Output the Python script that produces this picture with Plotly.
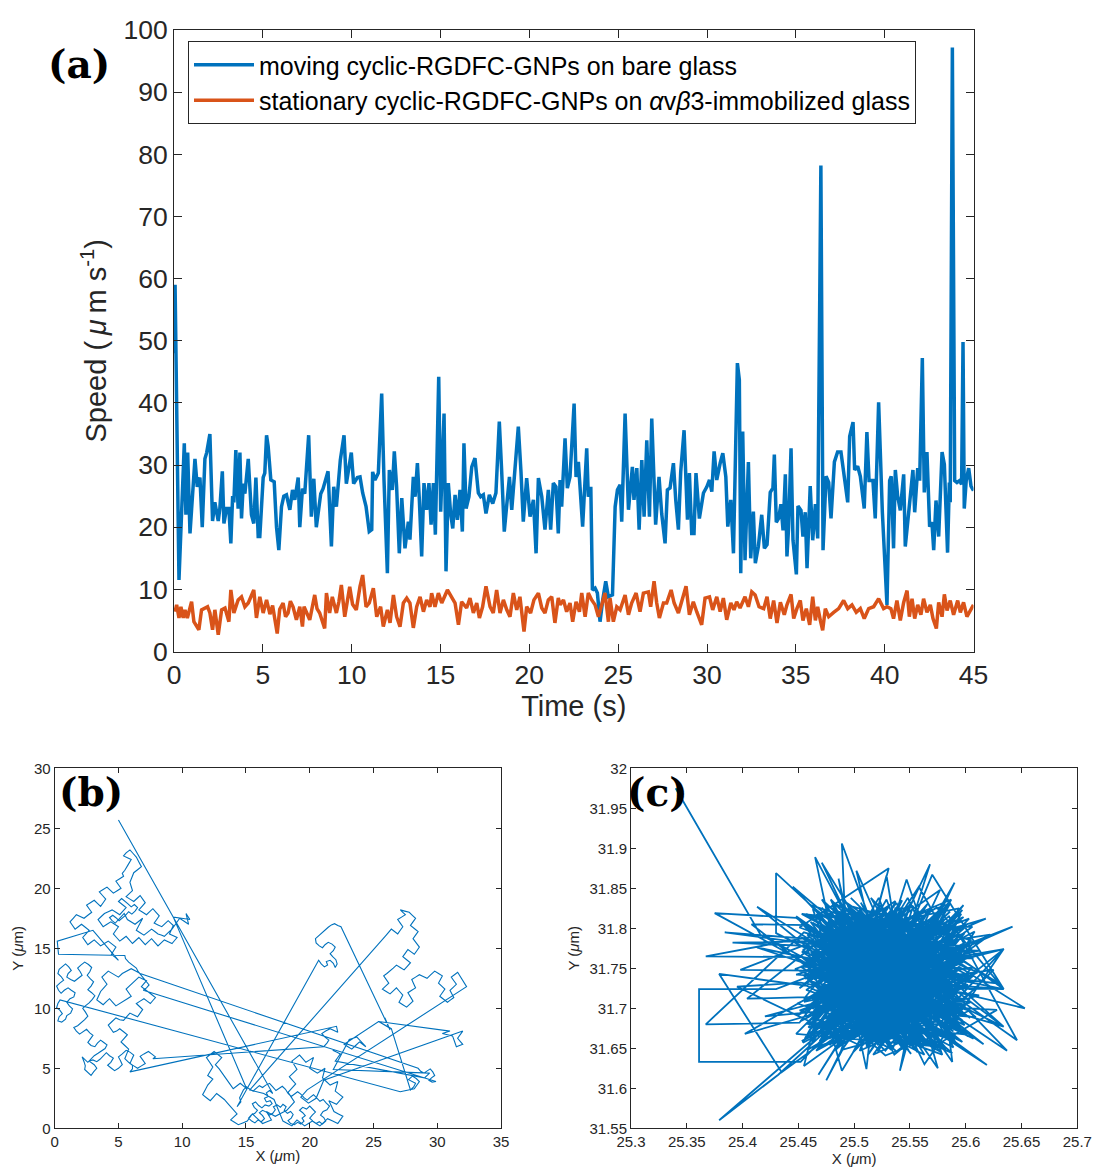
import plotly.graph_objects as go

# ---------------- (a) particle speed versus time ----------------
# moving cyclic-RGDFC-GNPs on bare glass: (time s, speed um/s)
moving_speed = [
    (0.00, 48.0), (0.06, 59.0), (0.28, 11.5), (0.58, 33.5), (0.67, 22.0), (0.77, 32.0), (0.90, 19.0),
    (1.18, 31.0), (1.31, 26.5), (1.46, 28.0), (1.59, 20.0), (1.74, 31.0), (1.84, 32.0), (2.02, 35.0),
    (2.17, 21.0), (2.30, 24.0), (2.49, 21.0), (2.58, 23.0), (2.72, 29.0), (2.81, 20.6), (2.96, 23.0),
    (3.09, 23.0), (3.20, 17.4), (3.30, 25.0), (3.37, 24.0), (3.48, 32.4), (3.61, 23.0), (3.71, 32.0),
    (3.80, 21.4), (3.90, 27.0), (3.99, 25.4), (4.18, 31.0), (4.36, 22.0), (4.49, 20.6), (4.61, 28.0),
    (4.74, 18.5), (4.83, 18.5), (5.02, 28.0), (5.11, 28.7), (5.21, 34.8), (5.30, 33.0), (5.45, 27.6),
    (5.64, 27.3), (5.77, 20.0), (5.90, 16.3), (6.05, 23.3), (6.18, 25.0), (6.33, 25.2), (6.52, 22.8),
    (6.67, 26.0), (6.80, 24.4), (6.99, 28.0), (7.08, 20.0), (7.23, 26.2), (7.36, 25.4), (7.58, 34.8),
    (7.73, 21.7), (7.87, 27.8), (8.01, 20.0), (8.26, 25.4), (8.39, 26.2), (8.67, 29.0), (8.86, 16.9),
    (8.99, 26.5), (9.14, 23.3), (9.36, 30.8), (9.57, 34.8), (9.70, 27.0), (9.98, 32.0), (10.11, 27.0),
    (10.32, 28.0), (10.47, 28.1), (10.62, 25.5), (10.81, 23.3), (10.99, 19.3), (11.13, 19.6), (11.18, 28.9),
    (11.31, 27.6), (11.50, 28.7), (11.69, 41.5), (11.82, 27.6), (12.01, 12.6), (12.12, 29.2), (12.29, 26.0),
    (12.40, 32.2), (12.53, 26.5), (12.68, 15.8), (12.82, 24.7), (13.00, 16.6), (13.19, 20.9), (13.28, 18.0),
    (13.47, 28.1), (13.57, 24.9), (13.70, 30.3), (13.81, 24.4), (13.94, 15.3), (14.07, 27.1), (14.22, 22.8),
    (14.35, 27.1), (14.47, 20.4), (14.60, 27.1), (14.71, 18.8), (14.90, 44.2), (15.01, 22.5), (15.20, 38.3),
    (15.31, 12.9), (15.44, 27.1), (15.57, 22.2), (15.69, 19.8), (15.82, 25.2), (15.95, 21.2), (16.10, 26.0),
    (16.23, 19.3), (16.32, 33.5), (16.44, 23.0), (16.60, 24.9), (16.76, 29.7), (16.94, 31.1), (17.13, 25.5),
    (17.26, 24.9), (17.41, 25.2), (17.56, 22.2), (17.75, 25.2), (17.94, 23.8), (18.12, 25.5), (18.31, 37.0),
    (18.44, 29.2), (18.59, 19.3), (18.73, 23.6), (18.88, 28.1), (19.01, 22.8), (19.19, 28.7), (19.38, 36.2),
    (19.53, 28.9), (19.66, 20.9), (19.85, 27.9), (20.04, 21.7), (20.23, 24.4), (20.38, 15.8), (20.51, 27.9),
    (20.70, 24.9), (20.88, 19.6), (21.07, 26.0), (21.20, 19.6), (21.35, 27.1), (21.50, 26.5), (21.63, 19.0),
    (21.73, 27.6), (21.82, 23.3), (22.01, 34.3), (22.14, 26.3), (22.29, 28.1), (22.52, 39.9), (22.63, 28.1),
    (22.76, 30.5), (23.00, 20.1), (23.23, 32.7), (23.32, 24.9), (23.46, 26.5), (23.55, 9.9), (23.70, 10.2),
    (23.83, 9.4), (23.98, 4.8), (24.13, 8.3), (24.30, 11.3), (24.45, 8.8), (24.68, 9.1), (24.83, 23.3),
    (24.96, 26.0), (25.11, 26.8), (25.20, 20.9), (25.39, 38.3), (25.58, 22.8), (25.80, 29.7), (25.89, 24.4),
    (26.05, 29.5), (26.18, 19.6), (26.33, 30.8), (26.46, 21.7), (26.61, 34.0), (26.76, 21.7), (26.89, 37.5),
    (27.11, 20.4), (27.30, 28.1), (27.45, 22.2), (27.64, 17.4), (27.77, 26.0), (27.92, 26.3), (28.11, 30.3),
    (28.24, 24.4), (28.39, 19.6), (28.52, 28.9), (28.71, 35.6), (28.90, 21.2), (29.01, 28.7), (29.14, 19.0),
    (29.27, 19.0), (29.38, 28.7), (29.57, 21.4), (29.80, 25.5), (29.99, 26.5), (30.14, 27.6), (30.27, 25.7),
    (30.40, 32.2), (30.55, 27.6), (30.74, 30.3), (30.89, 31.9), (31.06, 28.1), (31.17, 20.1), (31.34, 24.4),
    (31.49, 15.8), (31.71, 46.4), (31.82, 43.7), (31.90, 12.6), (32.01, 35.4), (32.14, 14.7), (32.33, 30.5),
    (32.46, 15.0), (32.61, 22.5), (32.72, 14.2), (32.89, 16.9), (33.08, 22.0), (33.23, 16.6), (33.38, 17.2),
    (33.56, 25.6), (33.71, 26.3), (33.79, 31.7), (33.90, 20.8), (34.03, 21.4), (34.16, 23.7), (34.28, 19.5),
    (34.41, 28.5), (34.50, 15.3), (34.59, 19.8), (34.73, 32.7), (34.84, 17.9), (35.03, 12.4), (35.12, 23.4),
    (35.29, 22.7), (35.40, 18.5), (35.53, 22.4), (35.63, 13.4), (35.81, 26.6), (35.95, 17.9), (36.10, 23.7),
    (36.23, 18.2), (36.41, 78.2), (36.53, 16.3), (36.70, 28.2), (36.85, 27.2), (36.98, 21.4), (37.17, 30.5),
    (37.35, 32.1), (37.54, 32.1), (37.69, 28.8), (37.92, 24.0), (38.03, 34.6), (38.22, 36.9), (38.31, 29.2),
    (38.48, 29.8), (38.63, 28.2), (38.85, 23.0), (39.00, 35.3), (39.12, 27.5), (39.34, 27.5), (39.47, 21.4),
    (39.66, 40.1), (39.87, 22.4), (40.13, 7.5), (40.28, 27.5), (40.37, 28.2), (40.50, 16.6), (40.60, 29.2),
    (40.73, 25.0), (40.88, 22.7), (41.07, 28.5), (41.16, 16.9), (41.29, 20.5), (41.48, 26.3), (41.59, 29.2),
    (41.69, 22.4), (41.86, 29.5), (41.97, 27.5), (42.12, 47.2), (42.23, 25.6), (42.38, 32.1), (42.53, 20.1),
    (42.66, 20.8), (42.76, 16.3), (42.89, 24.3), (43.04, 18.5), (43.23, 32.1), (43.36, 30.1), (43.54, 15.9),
    (43.64, 27.2), (43.69, 24.0), (43.81, 97.2), (43.94, 27.5), (44.07, 27.2), (44.22, 27.5), (44.33, 26.9),
    (44.41, 49.8), (44.48, 23.0), (44.59, 27.5), (44.73, 29.5), (44.86, 26.6), (45.00, 25.9),
]

# stationary cyclic-RGDFC-GNPs on avb3-immobilized glass: (time s, speed um/s)
stationary_speed = [
    (0.06, 6.4), (0.15, 7.5), (0.28, 5.4), (0.39, 7.2), (0.52, 5.4), (0.62, 6.7), (0.75, 5.4), (0.99, 8.0),
    (1.12, 4.8), (1.40, 3.5), (1.55, 6.7), (1.89, 7.2), (2.02, 6.2), (2.17, 3.5), (2.30, 6.7), (2.49, 2.7),
    (2.68, 6.7), (2.87, 7.0), (3.09, 4.8), (3.20, 9.9), (3.37, 6.2), (3.61, 8.3), (3.80, 8.8), (3.99, 7.2),
    (4.18, 7.8), (4.49, 9.9), (4.64, 5.4), (4.83, 8.8), (5.02, 6.2), (5.21, 8.3), (5.40, 6.0), (5.55, 7.4),
    (5.81, 2.9), (5.95, 6.8), (6.14, 7.8), (6.28, 5.6), (6.42, 6.2), (6.55, 8.1), (6.70, 7.2), (6.89, 5.1),
    (7.08, 7.2), (7.23, 4.0), (7.32, 7.2), (7.48, 6.1), (7.64, 5.1), (7.92, 9.1), (8.05, 6.9), (8.20, 6.2),
    (8.48, 3.7), (8.58, 9.4), (8.76, 6.2), (8.91, 8.8), (9.14, 6.2), (9.28, 8.0), (9.42, 10.7), (9.61, 5.6),
    (9.89, 10.4), (10.05, 7.6), (10.26, 6.7), (10.47, 10.5), (10.62, 12.3), (10.81, 7.2), (10.99, 7.8),
    (11.22, 10.2), (11.41, 5.6), (11.63, 7.2), (11.78, 4.0), (12.01, 6.7), (12.16, 4.6), (12.35, 9.1),
    (12.53, 5.6), (12.72, 4.0), (12.91, 7.8), (13.10, 8.6), (13.28, 7.8), (13.47, 3.8), (13.66, 7.2),
    (13.85, 8.8), (14.04, 6.4), (14.22, 8.3), (14.41, 7.2), (14.50, 9.4), (14.69, 7.2), (14.88, 9.4),
    (15.07, 7.8), (15.39, 9.9), (15.63, 8.6), (15.82, 7.8), (16.01, 4.3), (16.19, 8.0), (16.47, 7.0),
    (16.66, 8.6), (16.85, 6.2), (17.04, 7.8), (17.19, 5.4), (17.37, 7.2), (17.56, 10.5), (17.79, 7.2),
    (17.97, 6.2), (18.16, 9.9), (18.35, 6.2), (18.54, 8.3), (18.73, 6.7), (18.91, 5.6), (19.10, 9.4),
    (19.29, 6.7), (19.47, 8.8), (19.70, 3.2), (19.85, 7.2), (20.07, 6.2), (20.26, 8.3), (20.51, 9.4),
    (20.70, 7.0), (20.88, 6.2), (21.07, 8.3), (21.26, 8.8), (21.44, 4.6), (21.63, 8.6), (21.73, 7.5),
    (21.92, 8.3), (22.10, 6.4), (22.29, 7.8), (22.44, 4.8), (22.63, 8.0), (22.82, 6.4), (22.95, 9.4),
    (23.14, 5.6), (23.32, 9.4), (23.51, 8.3), (23.70, 7.5), (23.89, 5.6), (24.08, 7.8), (24.26, 9.4),
    (24.45, 4.8), (24.54, 8.6), (24.73, 4.8), (24.92, 7.2), (25.11, 6.7), (25.39, 9.1), (25.58, 5.9),
    (25.76, 7.8), (26.01, 9.4), (26.23, 6.4), (26.42, 9.4), (26.70, 9.6), (26.83, 7.2), (27.02, 11.3),
    (27.17, 7.8), (27.32, 5.4), (27.55, 7.8), (27.73, 7.8), (27.98, 9.9), (28.15, 7.8), (28.39, 6.2),
    (28.58, 8.3), (28.82, 10.5), (29.01, 5.9), (29.23, 8.0), (29.42, 6.4), (29.70, 4.3), (29.89, 8.6),
    (30.14, 8.8), (30.32, 6.7), (30.55, 8.8), (30.74, 6.4), (30.92, 8.6), (31.11, 5.1), (31.34, 7.8),
    (31.52, 6.7), (31.67, 8.0), (31.86, 7.0), (32.14, 8.8), (32.33, 7.2), (32.52, 9.6), (32.71, 9.1),
    (32.93, 7.2), (33.19, 6.9), (33.38, 8.8), (33.56, 5.3), (33.75, 8.2), (33.94, 4.6), (34.13, 7.9),
    (34.35, 5.9), (34.50, 7.5), (34.73, 9.2), (34.88, 5.3), (35.06, 6.9), (35.25, 8.2), (35.40, 5.0),
    (35.59, 6.9), (35.78, 4.3), (35.95, 8.8), (36.10, 5.0), (36.23, 7.2), (36.38, 5.0), (36.51, 3.4),
    (36.66, 6.9), (36.85, 5.6), (37.13, 6.3), (37.41, 6.9), (37.69, 8.2), (37.92, 6.9), (38.16, 7.5),
    (38.40, 6.3), (38.63, 6.9), (38.85, 5.3), (39.10, 6.9), (39.38, 7.2), (39.66, 8.5), (39.94, 6.9),
    (40.13, 7.2), (40.35, 6.9), (40.50, 5.3), (40.69, 8.2), (40.88, 5.0), (41.07, 7.9), (41.26, 9.8),
    (41.39, 5.6), (41.54, 8.5), (41.69, 5.3), (41.86, 7.5), (42.04, 5.9), (42.19, 8.5), (42.38, 6.3),
    (42.57, 7.5), (42.72, 5.3), (42.91, 3.7), (43.04, 7.9), (43.23, 5.6), (43.36, 9.2), (43.51, 6.6),
    (43.69, 8.2), (43.88, 5.9), (44.11, 8.2), (44.26, 6.3), (44.44, 7.9), (44.63, 5.6), (44.82, 6.6),
    (45.00, 7.5),
]

time_ticks = [0, 5, 10, 15, 20, 25, 30, 35, 40, 45]
speed_ticks = [0, 10, 20, 30, 40, 50, 60, 70, 80, 90, 100]

# ---------------- (b) trajectory of a moving particle (um) ----------------
moving_track = [
    (5.00, 25.70), (17.10, 2.90),
    # bottom cluster, first visit
    (16.85, 3.15), (16.6, 2.95), (16.75, 2.65), (16.45, 2.5), (16.6, 2.2), (16.9, 2.3), (17.05, 2.05), (16.8, 1.85),
    (16.5, 1.95), (16.25, 1.7), (16.0, 1.9), (15.75, 2.2), (15.5, 2.05), (15.65, 1.75), (15.9, 1.5), (15.7, 1.25),
    (15.4, 1.1), (15.2, 0.85), (15.45, 0.6), (15.7, 0.45), (15.95, 0.7), (16.2, 0.55), (16.45, 0.8), (16.3, 1.05),
    (16.05, 1.3), (16.3, 1.5), (16.6, 1.35), (16.85, 1.1), (17.1, 1.25), (17.3, 1.55), (17.15, 1.8), (17.45, 1.95),
    (17.7, 1.75), (17.9, 2.0), (18.15, 1.8), (18.0, 1.5), (18.25, 1.25), (18.5, 1.4), (18.7, 1.15), (18.55, 0.85),
    (18.3, 0.65), (18.5, 0.4), (18.8, 0.3), (19.05, 0.5), (19.3, 0.35), (19.55, 0.6), (19.4, 0.85), (19.65, 1.05),
    (19.45, 1.3), (19.2, 1.5), (19.45, 1.75), (19.75, 1.6), (20.0, 1.85), (20.25, 1.6), (20.45, 1.35), (20.2, 1.1),
    (20.0, 0.85), (20.25, 0.6), (20.5, 0.4), (20.75, 0.55), (21.0, 0.35), (21.25, 0.6), (21.1, 0.9), (20.85, 1.1),
    (21.05, 1.4), (21.35, 1.55), (21.55, 1.85), (21.3, 2.1), (21.05, 2.4), (20.8, 2.25), (20.55, 2.55), (20.3, 2.8),
    (20.05, 2.6), (19.8, 2.35), (19.55, 2.55), (19.3, 2.85), (19.05, 3.05), (18.8, 2.85), (18.55, 2.65), (18.3, 2.9),
    (18.1, 3.25), (17.85, 3.5), (17.6, 3.3), (17.35, 3.15), (17.1, 3.45), (16.85, 3.75), (16.55, 3.6), (16.3, 3.4),
    (16.05, 3.55), (15.8, 3.3), (15.55, 3.1), (15.3, 3.25), (15.05, 3.45), (14.8, 3.2), (14.65, 2.9), (14.5, 2.55),
    (14.6, 2.2), (14.4, 1.95), (14.3, 1.8),
    # middle cluster
    (20.7, 14.0), (20.9, 13.7), (21.15, 13.45), (21.4, 13.6), (21.3, 13.9), (21.6, 14.0), (21.85, 13.75), (22.0, 13.4),
    (22.15, 13.7), (22.05, 14.05), (21.8, 14.3), (21.6, 14.55), (21.85, 14.8), (22.0, 15.1), (21.75, 15.35),
    (21.45, 15.5), (21.2, 15.3), (21.0, 15.05), (20.75, 15.2), (20.5, 15.45), (20.45, 15.8), (20.7, 16.05),
    (20.95, 16.3), (21.2, 16.5), (21.45, 16.75), (21.7, 16.95), (21.95, 17.05), (22.2, 16.9), (22.45, 16.8),
    (26.3, 8.2), (25.9, 9.2), (26.2, 8.4), (25.4, 8.9), (26.4, 8.3),
    (27.9, 3.2), (28.15, 3.45), (28.3, 3.75), (28.0, 3.9), (27.75, 4.05), (28.05, 4.35), (28.35, 4.15), (28.6, 3.9),
    (28.4, 3.55), (28.2, 3.3), (27.1, 3.05),
    # left cluster
    (0.42, 10.7), (0.25, 10.4), (0.15, 10.05), (0.4, 9.85), (0.6, 9.55), (0.35, 9.3), (0.25, 8.95), (0.55, 8.85),
    (0.85, 9.1), (0.95, 9.4), (1.25, 9.6), (1.4, 9.95), (1.15, 10.2), (0.95, 10.5), (1.2, 10.8), (1.5, 10.95),
    (1.6, 11.3), (1.3, 11.5), (1.05, 11.7), (0.75, 11.5), (0.5, 11.25), (0.3, 11.5), (0.15, 11.85), (0.4, 12.1),
    (0.7, 12.35), (0.5, 12.65), (0.25, 12.9), (0.35, 13.25), (0.6, 13.5), (0.85, 13.7), (1.1, 13.45), (1.3, 13.15),
    (1.05, 12.9), (0.95, 12.6), (1.25, 12.4), (1.55, 12.25), (1.85, 12.5), (2.15, 12.75), (2.0, 13.05), (1.8, 13.35),
    (2.05, 13.6), (2.35, 13.85), (2.65, 13.65), (2.9, 13.4), (2.75, 13.05), (2.55, 12.75), (2.8, 12.45), (3.05, 12.2),
    (2.85, 11.85), (2.6, 11.55), (2.9, 11.3), (3.15, 11.05), (2.95, 10.75), (2.7, 10.45), (2.45, 10.25), (2.2, 10.0),
    (2.4, 9.7), (2.6, 9.35), (2.35, 9.05), (2.1, 8.8), (1.8, 8.55), (1.5, 8.4), (1.7, 8.1), (1.95, 7.85),
    (2.25, 8.05), (2.5, 8.25), (2.75, 7.95), (3.0, 7.75), (2.8, 7.45), (2.6, 7.15), (2.85, 6.9), (3.15, 6.8),
    (3.35, 7.1), (3.6, 7.35), (3.85, 7.15), (4.1, 6.95), (3.95, 6.65), (3.7, 6.45), (3.4, 6.25), (3.1, 6.05),
    (2.85, 5.8), (2.6, 5.5), (2.35, 5.75), (2.15, 5.95), (2.3, 5.55), (2.4, 5.2), (2.35, 4.9), (2.6, 4.65),
    (2.85, 4.4), (3.05, 4.7), (3.3, 5.0), (3.1, 5.3), (2.85, 5.45), (2.7, 5.6),
    (3.0, 5.7), (3.3, 5.55), (3.55, 5.75), (3.8, 6.05), (4.05, 6.3), (4.3, 6.05), (4.6, 5.85), (4.4, 5.5),
    (4.15, 5.25), (4.45, 5.0), (4.7, 4.8), (5.0, 5.0), (5.3, 5.3), (5.15, 5.65), (5.0, 5.95), (5.3, 6.2),
    (5.6, 6.5), (5.9, 6.35), (6.2, 6.1), (6.05, 5.75), (5.9, 5.4), (6.2, 5.2), (6.5, 5.0), (6.8, 5.2),
    (7.1, 5.4), (6.9, 5.7), (6.7, 6.0), (7.0, 6.2), (7.35, 6.4), (7.6, 6.2), (7.9, 5.95), (7.7, 5.8),
    (21.1, 6.8), (21.35, 7.1), (21.5, 7.35), (21.2, 7.6), (20.95, 7.9), (21.25, 8.1), (21.6, 8.3), (21.9, 8.15),
    (22.2, 8.0), (22.1, 8.5),
    (5.9, 4.7), (6.1, 4.95), (6.1, 5.25), (5.8, 5.5), (5.5, 5.8), (5.65, 6.2), (5.8, 6.6), (5.5, 6.9),
    (5.2, 7.2), (5.45, 7.5), (5.7, 7.8), (5.4, 8.05), (5.1, 8.3), (4.85, 8.1), (4.6, 8.0), (4.4, 8.3),
    (4.2, 8.6), (4.5, 8.9), (4.8, 9.2), (5.1, 9.05), (5.4, 9.0), (5.65, 9.3), (5.9, 9.6), (6.2, 9.45),
    (6.5, 9.3), (6.7, 9.6), (6.9, 9.9), (6.65, 10.15), (6.4, 10.4), (6.7, 10.6), (7.0, 10.8), (7.25, 10.6),
    (7.5, 10.4), (7.7, 10.65), (7.9, 10.9), (7.6, 11.15), (7.3, 11.4), (7.05, 11.6), (6.8, 11.8), (7.0, 12.05),
    (7.2, 12.3), (6.9, 12.45), (6.6, 12.6), (6.35, 12.35), (6.1, 12.1), (5.85, 11.85), (5.6, 11.6), (5.8, 11.3),
    (6.0, 11.0), (5.7, 10.8), (5.4, 10.6), (5.1, 10.4), (4.8, 10.2), (4.55, 10.5), (4.3, 10.8), (4.05, 10.55),
    (3.8, 10.3), (3.55, 10.5), (3.3, 10.7), (3.45, 11.05), (3.6, 11.4), (3.85, 11.7), (4.1, 12.0), (3.9, 12.3),
    (3.7, 12.6), (3.95, 12.85), (4.2, 13.1), (4.6, 12.85), (5.0, 12.6), (5.3, 12.9), (5.65, 13.1), (6.0, 13.3),
    (6.35, 13.1), (6.7, 12.9),
    (28.5, 5.0), (28.7, 4.75), (28.95, 4.6), (29.2, 4.8), (29.45, 4.95), (29.65, 4.7), (29.8, 4.4), (29.55, 4.2),
    (29.35, 4.0), (29.6, 3.85), (29.9, 3.9),
    # upper-left cluster
    (6.95, 11.5), (7.2, 11.7), (7.4, 11.95), (7.2, 12.2), (7.0, 12.45), (6.75, 12.75), (6.55, 13.05), (6.4, 13.35),
    (6.1, 13.6), (5.8, 13.85), (5.55, 14.15), (5.5, 14.4), (0.3, 14.5), (0.2, 15.6), (3.0, 16.5), (5.0, 14.0),
    (4.75, 14.25), (4.45, 14.5), (4.6, 14.8), (4.8, 15.1), (4.5, 15.35), (4.2, 15.6), (3.9, 15.4), (3.6, 15.2),
    (3.35, 15.45), (3.1, 15.7), (2.85, 15.5), (2.6, 15.3), (2.4, 15.6), (2.2, 15.9), (2.45, 16.2), (2.7, 16.5),
    (2.4, 16.75), (2.1, 17.0), (1.85, 16.8), (1.6, 16.6), (1.4, 16.9), (1.2, 17.2), (1.45, 17.5), (1.7, 17.8),
    (2.0, 17.65), (2.3, 17.5), (2.6, 17.75), (2.9, 18.0), (2.7, 18.3), (2.5, 18.6), (2.8, 18.8), (3.1, 19.0),
    (3.35, 18.75), (3.6, 18.5), (3.8, 18.8), (4.0, 19.1), (3.75, 19.4), (3.5, 19.7), (3.8, 19.9), (4.1, 20.1),
    (4.35, 19.85), (4.6, 19.6), (4.9, 19.8), (5.2, 20.0), (5.0, 20.3), (4.8, 20.6), (5.1, 20.8), (5.4, 21.0),
    (5.3, 21.25), (5.5, 21.5), (5.75, 21.95), (6.0, 22.4), (5.7, 22.55), (5.4, 22.7), (5.6, 22.95), (5.9, 23.2),
    (6.15, 22.9), (6.4, 22.6), (6.6, 22.2), (6.8, 21.8), (6.5, 21.55), (6.2, 21.3), (6.05, 20.9), (5.9, 20.5),
    (6.0, 20.15), (6.1, 19.8), (5.85, 19.55), (5.6, 19.3), (5.9, 19.1), (6.2, 18.9), (6.45, 19.15), (6.7, 19.4),
    (6.9, 19.1), (7.1, 18.8), (6.85, 18.5), (6.6, 18.2), (6.9, 18.0), (7.2, 17.8), (7.45, 18.05), (7.7, 18.3),
    (7.95, 18.0), (8.2, 17.7), (8.0, 17.4), (7.8, 17.1), (8.1, 16.95), (8.4, 16.8), (8.65, 17.05), (8.9, 17.3),
    (9.1, 17.1), (9.3, 16.9), (9.15, 16.55), (9.0, 16.2), (9.3, 16.05), (9.6, 15.9), (9.4, 15.65), (9.2, 15.4),
    (8.9, 15.55), (8.6, 15.7), (8.35, 15.45), (8.1, 15.2), (7.85, 15.5), (7.6, 15.8), (7.35, 15.55), (7.1, 15.3),
    (6.85, 15.6), (6.6, 15.9), (6.35, 15.65), (6.1, 15.4), (5.85, 15.7), (5.6, 16.0), (5.35, 15.8), (5.1, 15.6),
    (4.85, 15.9), (4.6, 16.2), (4.8, 16.5), (5.0, 16.8), (4.7, 17.0), (4.4, 17.2), (4.1, 17.0), (3.8, 16.8),
    (3.6, 17.1), (3.4, 17.4), (3.65, 17.65), (3.9, 17.9), (4.2, 18.05), (4.5, 18.2), (4.8, 18.0), (5.1, 17.8),
    (5.35, 18.1), (5.6, 18.4), (5.3, 18.65), (5.0, 18.9), (5.25, 19.15), (5.5, 18.95), (5.75, 18.7), (6.0, 18.45),
    (6.25, 18.65), (6.5, 18.4), (6.3, 18.1), (6.05, 17.85), (5.8, 18.05), (5.55, 17.75), (5.3, 17.5), (5.05, 17.3),
    (4.8, 17.55), (4.55, 17.75), (4.3, 17.55), (4.5, 17.3), (4.75, 17.1), (5.2, 17.6), (5.45, 17.9), (5.7, 17.4),
    (6.0, 17.2), (6.3, 17.0), (6.6, 17.25), (6.9, 17.5), (6.65, 17.0), (6.4, 16.5), (6.7, 16.3), (7.0, 16.1),
    (7.3, 16.35), (7.6, 16.6), (7.85, 16.4), (8.1, 16.2), (8.35, 16.1), (8.6, 16.0), (8.9, 16.3), (9.2, 16.6),
    (9.5, 17.05), (9.8, 17.5), (10.15, 17.25), (10.5, 17.0), (10.4, 17.45), (10.3, 17.9), (10.45, 17.65),
    (10.6, 17.4), (9.95, 17.5), (9.3, 17.6),
    # bottom cluster, second visit
    (15.05, 3.3), (14.8, 3.55), (14.55, 3.75), (14.3, 3.55), (14.0, 3.3), (13.8, 3.6), (13.6, 3.9), (13.4, 4.25),
    (13.2, 4.6), (12.9, 4.95), (12.6, 5.3), (12.85, 5.6), (13.1, 5.9), (12.8, 6.15), (12.5, 6.4), (12.2, 6.15),
    (11.9, 5.9), (12.15, 5.5), (12.4, 5.1), (12.2, 4.75), (12.0, 4.4), (12.2, 4.25), (12.4, 4.1), (12.2, 3.85),
    (12.0, 3.6), (11.8, 3.2), (11.6, 2.8), (11.9, 2.55), (12.2, 2.3), (12.45, 2.6), (12.7, 2.9), (13.0, 2.65),
    (13.3, 2.4), (13.55, 2.1), (13.8, 1.8), (14.05, 1.5), (14.3, 1.2), (14.05, 0.95), (13.8, 0.7), (14.1, 0.5),
    (14.4, 0.3), (14.75, 0.45), (15.1, 0.6), (15.3, 0.9), (15.5, 1.2), (15.9, 0.8), (16.3, 0.4), (16.65, 0.55),
    (17.0, 0.7), (16.8, 1.05), (16.6, 1.4), (16.95, 1.2), (17.3, 1.0), (17.75, 1.25), (18.2, 1.5), (18.5, 1.85),
    (18.8, 2.2), (18.55, 2.6), (18.3, 3.0), (18.6, 3.35), (18.9, 3.7), (18.65, 4.0), (18.4, 4.3), (18.7, 4.6),
    (19.0, 4.9), (18.8, 5.25), (18.6, 5.6), (18.9, 5.85), (19.2, 6.1), (19.45, 5.8), (19.7, 5.5), (20.0, 5.7),
    (20.3, 5.9), (20.15, 5.45), (20.0, 5.0), (20.3, 4.8), (20.6, 4.6), (20.9, 4.8), (21.2, 5.0), (21.1, 4.6),
    (21.0, 4.2), (21.3, 3.9), (21.6, 3.6), (21.9, 3.75), (22.2, 3.9), (22.1, 3.5), (22.0, 3.1), (22.3, 2.85),
    (22.6, 2.6), (22.35, 2.3), (22.1, 2.0), (21.8, 2.15), (21.5, 2.3), (21.7, 1.85), (21.9, 1.4), (22.25, 1.2),
    (22.6, 1.0), (22.4, 0.7), (22.2, 0.4), (21.8, 0.6), (21.4, 0.8), (21.1, 0.5), (20.8, 0.2), (20.5, 0.4),
    (20.2, 0.6), (19.9, 0.4), (19.6, 0.2), (19.3, 0.45), (19.0, 0.7), (18.8, 0.45), (18.6, 0.2), (18.25, 0.4),
    (17.9, 0.6), (17.55, 1.5), (17.2, 2.4), (16.8, 2.65), (16.4, 2.9), (15.85, 3.05), (15.3, 3.2),
    # right cluster
    (26.0, 16.1), (26.2, 16.35), (26.4, 16.6), (26.65, 16.4), (26.9, 16.2), (27.1, 16.5), (27.3, 16.8), (27.1, 17.1),
    (26.9, 17.4), (27.2, 17.6), (27.5, 17.8), (27.3, 18.0), (27.1, 18.2), (27.45, 18.1), (27.8, 18.0), (28.05, 17.75),
    (28.3, 17.5), (28.1, 17.2), (27.9, 16.9), (28.2, 16.65), (28.5, 16.4), (28.3, 16.1), (28.1, 15.8), (28.35, 15.45),
    (28.6, 15.1), (28.4, 14.8), (28.2, 14.5), (27.95, 14.7), (27.7, 14.9), (27.5, 14.6), (27.3, 14.3), (27.6, 14.05),
    (27.9, 13.8), (27.65, 13.5), (27.4, 13.2), (27.1, 13.4), (26.8, 13.6), (26.55, 13.35), (26.3, 13.1), (26.05, 12.9),
    (25.8, 12.7), (26.0, 12.4), (26.2, 12.1), (25.95, 11.85), (25.7, 11.6), (26.0, 11.4), (26.3, 11.2), (26.55, 11.45),
    (26.8, 11.7), (27.05, 11.4), (27.3, 11.1), (27.15, 10.8), (27.0, 10.5), (27.3, 10.3), (27.6, 10.1), (27.85, 10.35),
    (28.1, 10.6), (27.9, 10.95), (27.7, 11.3), (28.0, 11.5), (28.3, 11.7), (28.15, 12.05), (28.0, 12.4), (28.3, 12.6),
    (28.6, 12.8), (28.9, 12.65), (29.2, 12.5), (29.5, 12.8), (29.8, 13.1), (30.1, 12.9), (30.4, 12.7), (30.25, 12.4),
    (30.1, 12.1), (30.35, 11.85), (30.6, 11.6), (30.4, 11.3), (30.2, 11.0), (30.5, 10.75), (30.8, 10.5), (31.05, 10.7),
    (31.3, 10.9), (31.15, 11.2), (31.0, 11.5), (31.25, 11.75), (31.5, 12.0), (31.3, 12.3), (31.1, 12.6), (31.35, 12.8),
    (31.6, 13.0), (32.3, 11.8),
    (19.8, 3.2), (19.3, 2.6), (19.9, 2.1), (20.5, 2.5), (21.1, 4.0),
    (32.0, 8.1), (31.8, 7.8), (31.6, 7.5), (31.8, 7.25), (32.0, 7.0), (31.75, 6.9), (31.5, 6.8), (31.35, 7.25),
    (31.2, 7.7), (30.8, 7.8), (30.4, 7.9), (30.7, 8.0), (31.0, 8.1), (25.4, 8.9),
    (22.7, 7.0), (23.0, 6.8), (23.3, 6.6), (23.6, 6.9), (23.9, 7.2), (24.15, 7.0), (24.4, 6.8), (24.05, 7.2),
    (23.7, 7.6), (23.4, 7.5), (23.1, 7.4), (21.85, 4.9), (29.4, 4.6), (29.0, 4.2), (22.0, 5.6), (22.2, 5.9),
    (22.4, 6.2), (22.1, 6.35), (21.8, 6.5),
]
track_b_xticks = [0, 5, 10, 15, 20, 25, 30, 35]
track_b_yticks = [0, 5, 10, 15, 20, 25, 30]

# ---------------- (c) trajectory of a stationary particle (um) ----------------
stationary_track = [
    (25.340, 31.975), (25.416, 31.792), (25.498, 31.731), (25.561, 31.806), (25.472, 31.664), (25.594, 31.748), (25.485, 31.812), (25.547, 31.671), (25.458, 31.735), (25.583, 31.690),
    (25.505, 31.824), (25.533, 31.648), (25.476, 31.773), (25.604, 31.779), (25.451, 31.697), (25.556, 31.731), (25.495, 31.659), (25.578, 31.803), (25.466, 31.817), (25.521, 31.683),
    (25.612, 31.716), (25.489, 31.744), (25.539, 31.797), (25.448, 31.668), (25.568, 31.653), (25.507, 31.766), (25.591, 31.662), (25.478, 31.699), (25.549, 31.827), (25.462, 31.786),
    (25.528, 31.709), (25.597, 31.823), (25.483, 31.647), (25.542, 31.752), (25.455, 31.803), (25.574, 31.698), (25.515, 31.838), (25.588, 31.727), (25.469, 31.741), (25.533, 31.676),
    (25.448, 31.815), (25.602, 31.665), (25.497, 31.789), (25.563, 31.642), (25.471, 31.708), (25.585, 31.781), (25.511, 31.654), (25.541, 31.819), (25.457, 31.754), (25.579, 31.713),
    (25.634, 31.774), (25.492, 31.727), (25.557, 31.688), (25.474, 31.829), (25.603, 31.741), (25.519, 31.671), (25.462, 31.762), (25.587, 31.836), (25.536, 31.701), (25.481, 31.657),
    (25.569, 31.768), (25.452, 31.684), (25.526, 31.811), (25.598, 31.694), (25.487, 31.758), (25.551, 31.643), (25.466, 31.796), (25.581, 31.735), (25.503, 31.692), (25.544, 31.785),
    (25.430, 31.724), (25.361, 31.724), (25.361, 31.633), (25.452, 31.633), (25.531, 31.748), (25.592, 31.673), (25.478, 31.807), (25.565, 31.719), (25.459, 31.676), (25.517, 31.795),
    (25.606, 31.802), (25.486, 31.681), (25.548, 31.763), (25.473, 31.736), (25.589, 31.651), (25.524, 31.829), (25.455, 31.712), (25.577, 31.757), (25.499, 31.645), (25.559, 31.798),
    (25.634, 31.724), (25.468, 31.771), (25.539, 31.664), (25.594, 31.812), (25.482, 31.719), (25.529, 31.792), (25.447, 31.749), (25.571, 31.681), (25.508, 31.814), (25.586, 31.706),
    (25.464, 31.651), (25.555, 31.742), (25.491, 31.834), (25.601, 31.727), (25.477, 31.689), (25.543, 31.822), (25.516, 31.662), (25.583, 31.765), (25.458, 31.792), (25.527, 31.703),
    (25.375, 31.819), (25.448, 31.813), (25.562, 31.695), (25.494, 31.778), (25.597, 31.658), (25.471, 31.745), (25.535, 31.651), (25.579, 31.826), (25.485, 31.702), (25.552, 31.779),
    (25.611, 31.745), (25.501, 31.667), (25.463, 31.824), (25.573, 31.736), (25.521, 31.775), (25.449, 31.691), (25.589, 31.793), (25.512, 31.641), (25.546, 31.716), (25.476, 31.783),
    (25.634, 31.677), (25.531, 31.806), (25.467, 31.728), (25.582, 31.649), (25.497, 31.817), (25.558, 31.673), (25.453, 31.771), (25.599, 31.711), (25.523, 31.743), (25.488, 31.661),
    (25.566, 31.831), (25.479, 31.696), (25.537, 31.758), (25.604, 31.688), (25.461, 31.808), (25.549, 31.647), (25.513, 31.729), (25.586, 31.821), (25.472, 31.672), (25.528, 31.786),
    (25.391, 31.782), (25.457, 31.778), (25.575, 31.704), (25.496, 31.749), (25.543, 31.835), (25.481, 31.655), (25.595, 31.766), (25.518, 31.687), (25.561, 31.797), (25.465, 31.718),
    (25.533, 31.668), (25.591, 31.742), (25.474, 31.799), (25.552, 31.709), (25.506, 31.832), (25.578, 31.657), (25.459, 31.683), (25.541, 31.774), (25.612, 31.772), (25.489, 31.733),
    (25.465, 31.889), (25.492, 31.818), (25.569, 31.746), (25.453, 31.659), (25.526, 31.712), (25.601, 31.803), (25.484, 31.763), (25.547, 31.654), (25.508, 31.788), (25.583, 31.697),
    (25.634, 31.774), (25.517, 31.746), (25.471, 31.826), (25.563, 31.668), (25.498, 31.702), (25.588, 31.778), (25.456, 31.737), (25.534, 31.817), (25.579, 31.642), (25.486, 31.689),
    (25.379, 31.560), (25.432, 31.617), (25.521, 31.731), (25.596, 31.719), (25.475, 31.761), (25.544, 31.695), (25.505, 31.826), (25.567, 31.784), (25.449, 31.706), (25.556, 31.659),
    (25.489, 31.796), (25.593, 31.685), (25.527, 31.823), (25.468, 31.649), (25.572, 31.749), (25.512, 31.679), (25.548, 31.806), (25.457, 31.723), (25.586, 31.661), (25.494, 31.741),
    (25.489, 31.906), (25.515, 31.808), (25.582, 31.712), (25.476, 31.684), (25.539, 31.771), (25.607, 31.762), (25.463, 31.794), (25.557, 31.645), (25.501, 31.757), (25.574, 31.826),
    (25.634, 31.724), (25.481, 31.727), (25.545, 31.662), (25.592, 31.798), (25.458, 31.667), (25.529, 31.836), (25.566, 31.701), (25.496, 31.671), (25.603, 31.737), (25.472, 31.815),
    (25.430, 31.869), (25.430, 31.794), (25.537, 31.719), (25.589, 31.671), (25.484, 31.778), (25.553, 31.828), (25.511, 31.652), (25.576, 31.741), (25.452, 31.752), (25.525, 31.692),
    (25.568, 31.880), (25.541, 31.801), (25.597, 31.708), (25.466, 31.702), (25.533, 31.649), (25.485, 31.821), (25.579, 31.791), (25.506, 31.718), (25.562, 31.674), (25.474, 31.759),
    (25.653, 31.700), (25.594, 31.752), (25.492, 31.662), (25.549, 31.789), (25.461, 31.829), (25.583, 31.692), (25.519, 31.767), (25.477, 31.706), (25.608, 31.784), (25.528, 31.647),
    (25.455, 31.741), (25.571, 31.813), (25.503, 31.697), (25.588, 31.644), (25.469, 31.786), (25.544, 31.735), (25.598, 31.829), (25.487, 31.669), (25.556, 31.721), (25.514, 31.803),
    (25.634, 31.677), (25.479, 31.742), (25.535, 31.681), (25.591, 31.769), (25.463, 31.691), (25.522, 31.838), (25.574, 31.654), (25.498, 31.785), (25.557, 31.749), (25.451, 31.801),
    (25.531, 31.875), (25.513, 31.782), (25.468, 31.675), (25.581, 31.725), (25.539, 31.657), (25.493, 31.809), (25.601, 31.691), (25.474, 31.728), (25.546, 31.773), (25.585, 31.815),
    (25.646, 31.660), (25.566, 31.739), (25.484, 31.649), (25.524, 31.756), (25.457, 31.818), (25.596, 31.738), (25.507, 31.677), (25.552, 31.833), (25.472, 31.698), (25.579, 31.682),
    (25.413, 31.827), (25.467, 31.766), (25.543, 31.701), (25.599, 31.794), (25.491, 31.737), (25.561, 31.663), (25.518, 31.822), (25.454, 31.657), (25.588, 31.754), (25.529, 31.711),
    (25.619, 31.629), (25.557, 31.692), (25.482, 31.791), (25.536, 31.642), (25.607, 31.723), (25.495, 31.754), (25.571, 31.802), (25.462, 31.711), (25.548, 31.748), (25.509, 31.661),
    (25.590, 31.857), (25.563, 31.779), (25.476, 31.817), (25.533, 31.687), (25.594, 31.661), (25.501, 31.729), (25.459, 31.784), (25.584, 31.709), (25.524, 31.799), (25.488, 31.646),
    (25.475, 31.610), (25.502, 31.681), (25.574, 31.773), (25.456, 31.746), (25.541, 31.816), (25.597, 31.701), (25.483, 31.707), (25.558, 31.658), (25.515, 31.774), (25.469, 31.804),
    (25.637, 31.647), (25.577, 31.734), (25.494, 31.829), (25.546, 31.676), (25.466, 31.722), (25.585, 31.796), (25.521, 31.655), (25.478, 31.766), (25.603, 31.749), (25.537, 31.809),
    (25.367, 31.765), (25.453, 31.764), (25.512, 31.694), (25.569, 31.827), (25.486, 31.672), (25.592, 31.718), (25.528, 31.762), (25.471, 31.836), (25.553, 31.667), (25.497, 31.713),
    (25.642, 31.802), (25.581, 31.769), (25.505, 31.743), (25.462, 31.693), (25.538, 31.832), (25.575, 31.689), (25.489, 31.781), (25.552, 31.721), (25.458, 31.648), (25.524, 31.786),
    (25.511, 31.624), (25.499, 31.702), (25.567, 31.762), (25.477, 31.804), (25.595, 31.677), (25.531, 31.719), (25.464, 31.771), (25.586, 31.831), (25.516, 31.656), (25.543, 31.742),
    (25.634, 31.774), (25.563, 31.630), (25.507, 31.791), (25.473, 31.687), (25.549, 31.758), (25.598, 31.814), (25.482, 31.739), (25.536, 31.664), (25.579, 31.742), (25.455, 31.795),
    (25.367, 31.680), (25.451, 31.682), (25.519, 31.807), (25.586, 31.726), (25.493, 31.658), (25.556, 31.812), (25.468, 31.754), (25.604, 31.707), (25.527, 31.683), (25.573, 31.797),
    (25.588, 31.633), (25.541, 31.728), (25.485, 31.822), (25.522, 31.671), (25.591, 31.784), (25.463, 31.731), (25.547, 31.693), (25.504, 31.765), (25.569, 31.652), (25.479, 31.777),
    (25.384, 31.795), (25.456, 31.787), (25.534, 31.748), (25.597, 31.685), (25.496, 31.716), (25.561, 31.822), (25.473, 31.669), (25.582, 31.758), (25.513, 31.737), (25.634, 31.724),
    (25.570, 31.867), (25.545, 31.783), (25.471, 31.712), (25.528, 31.641), (25.586, 31.673), (25.492, 31.797), (25.554, 31.739), (25.467, 31.758), (25.596, 31.803), (25.518, 31.725),
    (25.468, 31.617), (25.509, 31.708), (25.578, 31.746), (25.481, 31.833), (25.542, 31.662), (25.606, 31.751), (25.487, 31.724), (25.532, 31.791), (25.461, 31.676), (25.549, 31.705),
    (25.471, 31.882), (25.498, 31.803), (25.565, 31.694), (25.521, 31.769), (25.459, 31.745), (25.587, 31.718), (25.513, 31.651), (25.554, 31.786), (25.483, 31.691), (25.575, 31.762),
    (25.435, 31.620), (25.379, 31.743), (25.458, 31.728), (25.531, 31.673), (25.591, 31.735), (25.503, 31.821), (25.568, 31.707), (25.477, 31.662), (25.542, 31.797), (25.521, 31.741),
    (25.562, 31.744), (25.471, 31.694), (25.598, 31.781), (25.507, 31.653), (25.543, 31.826), (25.454, 31.773), (25.584, 31.664), (25.519, 31.719), (25.479, 31.836), (25.573, 31.702),
    (25.413, 31.776), (25.495, 31.752), (25.557, 31.683), (25.608, 31.796), (25.488, 31.708), (25.536, 31.781), (25.466, 31.647), (25.589, 31.739), (25.523, 31.812), (25.451, 31.725),
    (25.577, 31.848), (25.549, 31.765), (25.483, 31.685), (25.601, 31.667), (25.511, 31.797), (25.462, 31.744), (25.566, 31.721), (25.528, 31.658), (25.594, 31.825), (25.476, 31.792),
    (25.404, 31.712), (25.481, 31.715), (25.538, 31.646), (25.592, 31.707), (25.497, 31.838), (25.556, 31.757), (25.459, 31.702), (25.581, 31.811), (25.514, 31.677), (25.544, 31.733),
    (25.625, 31.748), (25.569, 31.671), (25.492, 31.773), (25.531, 31.827), (25.456, 31.663), (25.599, 31.759), (25.503, 31.704), (25.578, 31.645), (25.468, 31.815), (25.552, 31.694),
    (25.445, 31.852), (25.486, 31.804), (25.563, 31.731), (25.517, 31.642), (25.603, 31.697), (25.474, 31.756), (25.541, 31.791), (25.589, 31.683), (25.499, 31.667), (25.532, 31.749),
    (25.616, 31.655), (25.557, 31.712), (25.464, 31.784), (25.521, 31.701), (25.586, 31.835), (25.489, 31.648), (25.548, 31.671), (25.607, 31.741), (25.472, 31.729), (25.528, 31.818),
    (25.398, 31.748), (25.463, 31.747), (25.539, 31.707), (25.575, 31.787), (25.508, 31.744), (25.452, 31.789), (25.593, 31.726), (25.526, 31.663), (25.481, 31.828), (25.563, 31.679),
    (25.502, 31.872), (25.512, 31.812), (25.583, 31.722), (25.467, 31.681), (25.546, 31.758), (25.604, 31.772), (25.494, 31.693), (25.537, 31.834), (25.458, 31.759), (25.571, 31.652),
    (25.628, 31.698), (25.588, 31.701), (25.478, 31.738), (25.553, 31.803), (25.519, 31.657), (25.596, 31.818), (25.461, 31.715), (25.534, 31.726), (25.567, 31.665), (25.486, 31.799),
    (25.455, 31.628), (25.495, 31.668), (25.561, 31.771), (25.473, 31.821), (25.543, 31.687), (25.602, 31.729), (25.508, 31.784), (25.577, 31.698), (25.466, 31.744), (25.529, 31.676),
    (25.408, 31.805), (25.458, 31.804), (25.551, 31.728), (25.592, 31.656), (25.483, 31.763), (25.537, 31.815), (25.504, 31.711), (25.586, 31.774), (25.521, 31.646), (25.563, 31.796),
    (25.547, 31.861), (25.531, 31.791), (25.478, 31.703), (25.609, 31.689), (25.497, 31.823), (25.559, 31.673), (25.462, 31.798), (25.582, 31.737), (25.516, 31.764), (25.488, 31.658),
    (25.622, 31.792), (25.579, 31.783), (25.511, 31.728), (25.469, 31.659), (25.548, 31.838), (25.594, 31.704), (25.482, 31.689), (25.539, 31.762), (25.573, 31.648), (25.457, 31.781),
    (25.489, 31.622), (25.524, 31.702), (25.589, 31.759), (25.502, 31.791), (25.545, 31.652), (25.463, 31.738), (25.603, 31.812), (25.516, 31.684), (25.558, 31.822), (25.476, 31.711),
    (25.420, 31.690), (25.469, 31.696), (25.534, 31.771), (25.598, 31.741), (25.491, 31.656), (25.567, 31.731), (25.453, 31.818), (25.524, 31.807), (25.581, 31.668), (25.506, 31.746),
    (25.529, 31.866), (25.537, 31.798), (25.474, 31.768), (25.559, 31.698), (25.607, 31.662), (25.498, 31.736), (25.544, 31.649), (25.587, 31.803), (25.464, 31.702), (25.521, 31.825),
    (25.630, 31.731), (25.596, 31.736), (25.485, 31.812), (25.552, 31.686), (25.512, 31.769), (25.459, 31.663), (25.576, 31.819), (25.533, 31.736), (25.492, 31.689), (25.568, 31.757),
    (25.541, 31.622), (25.547, 31.665), (25.471, 31.777), (25.594, 31.695), (25.519, 31.833), (25.481, 31.672), (25.562, 31.789), (25.455, 31.708), (25.588, 31.748), (25.503, 31.655),
    (25.395, 31.727), (25.452, 31.732), (25.527, 31.712), (25.572, 31.676), (25.496, 31.801), (25.604, 31.764), (25.467, 31.693), (25.541, 31.743), (25.583, 31.829), (25.513, 31.668),
    (25.486, 31.862), (25.492, 31.826), (25.557, 31.751), (25.478, 31.654), (25.532, 31.789), (25.599, 31.679), (25.461, 31.771), (25.519, 31.699), (25.574, 31.731), (25.448, 31.742),
    (25.618, 31.812), (25.585, 31.792), (25.509, 31.661), (25.548, 31.814), (25.472, 31.722), (25.591, 31.719), (25.526, 31.754), (25.463, 31.807), (25.564, 31.688), (25.501, 31.774),
    (25.575, 31.625), (25.566, 31.669), (25.481, 31.745), (25.538, 31.696), (25.605, 31.785), (25.494, 31.829), (25.553, 31.716), (25.457, 31.681), (25.582, 31.651), (25.515, 31.758),
    (25.402, 31.668), (25.459, 31.691), (25.544, 31.772), (25.511, 31.723), (25.589, 31.712), (25.475, 31.803), (25.532, 31.661), (25.568, 31.811), (25.487, 31.735), (25.596, 31.757),
    (25.558, 31.852), (25.524, 31.779), (25.468, 31.712), (25.581, 31.694), (25.505, 31.647), (25.546, 31.808), (25.454, 31.756), (25.593, 31.732), (25.519, 31.686), (25.537, 31.826),
]
track_c_xticks = [25.3, 25.35, 25.4, 25.45, 25.5, 25.55, 25.6, 25.65, 25.7]
track_c_xlabels = ["25.3", "25.35", "25.4", "25.45", "25.5", "25.55", "25.6", "25.65", "25.7"]
track_c_yticks = [31.55, 31.6, 31.65, 31.7, 31.75, 31.8, 31.85, 31.9, 31.95, 32.0]
track_c_ylabels = ["31.55", "31.6", "31.65", "31.7", "31.75", "31.8", "31.85", "31.9", "31.95", "32"]

# ---------------- figure ----------------
W, H = 1093, 1168
SANS = "Liberation Sans, Arial, Helvetica, sans-serif"
AXIS_COLOR = "#262626"
BLUE = "#0072BD"
ORANGE = "#D95319"


def xdom(left_px, right_px):
    return [left_px / W, right_px / W]


def ydom(bottom_px, top_px):
    return [1 - bottom_px / H, 1 - top_px / H]


def axis(domain, rng, tickvals, ticktext, font_size, ticklen, anchor, title, title_size, standoff):
    return dict(
        domain=domain, range=rng, anchor=anchor,
        tickmode="array", tickvals=tickvals, ticktext=ticktext,
        ticks="inside", ticklen=ticklen, tickwidth=1, tickcolor=AXIS_COLOR,
        showline=True, linecolor=AXIS_COLOR, linewidth=1, mirror="ticks",
        showgrid=False, zeroline=False, automargin=False,
        tickfont=dict(family=SANS, size=font_size, color=AXIS_COLOR),
        title=dict(text=title, font=dict(family=SANS, size=title_size, color=AXIS_COLOR), standoff=standoff),
    )


fig = go.Figure()

fig.add_trace(go.Scatter(
    x=[p[0] for p in moving_speed], y=[p[1] for p in moving_speed],
    mode="lines", line=dict(color=BLUE, width=3.5),
    name="moving cyclic-RGDFC-GNPs on bare glass", xaxis="x", yaxis="y",
))
fig.add_trace(go.Scatter(
    x=[p[0] for p in stationary_speed], y=[p[1] for p in stationary_speed],
    mode="lines", line=dict(color=ORANGE, width=3.5),
    name="stationary cyclic-RGDFC-GNPs on <i>α</i>v<i>β</i>3-immobilized glass", xaxis="x", yaxis="y",
))
fig.add_trace(go.Scatter(
    x=[p[0] for p in moving_track], y=[p[1] for p in moving_track],
    mode="lines", line=dict(color=BLUE, width=1.1), showlegend=False, xaxis="x2", yaxis="y2",
))
fig.add_trace(go.Scatter(
    x=[p[0] for p in stationary_track], y=[p[1] for p in stationary_track],
    mode="lines", line=dict(color=BLUE, width=1.8), showlegend=False, xaxis="x3", yaxis="y3",
))

fig.update_layout(
    width=W, height=H,
    margin=dict(l=0, r=0, t=0, b=0),
    paper_bgcolor="white", plot_bgcolor="white",
    xaxis=axis(xdom(174, 973.5), [0, 45], time_ticks, [str(v) for v in time_ticks], 26.5, 8, "y",
               "Time (s)", 29, 5),
    yaxis=axis(ydom(651.5, 30), [0, 100], speed_ticks, [str(v) for v in speed_ticks], 26.5, 8, "x",
               "Speed (\u2009<i>μ</i>\u2009m s<sup>-1</sup>)", 29, 8),
    xaxis2=axis(xdom(54.7, 501), [0, 35], track_b_xticks, [str(v) for v in track_b_xticks], 15, 5, "y2",
                "X (<i>μ</i>m)", 15, 1),
    yaxis2=axis(ydom(1128.3, 768.3), [0, 30], track_b_yticks, [str(v) for v in track_b_yticks], 15, 5, "x2",
                "Y (<i>μ</i>m)", 15, 6),
    xaxis3=axis(xdom(631, 1077.3), [25.3, 25.7], track_c_xticks, track_c_xlabels, 15, 5, "y3",
                "X (<i>μ</i>m)", 15, 1),
    yaxis3=axis(ydom(1128.3, 768.3), [31.55, 32.0], track_c_yticks, track_c_ylabels, 15, 5, "x3",
                "Y (<i>μ</i>m)", 15, 6),
    legend=dict(
        x=188 / W, y=1 - 41 / H, xanchor="left", yanchor="top",
        bgcolor="white", bordercolor=AXIS_COLOR, borderwidth=1,
        font=dict(family=SANS, size=25, color="black"), tracegroupgap=0, itemwidth=60,
    ),
    showlegend=True,
)

# panel letters
letter_font = dict(family="DejaVu Serif, serif", size=39, color="black")
for text, cx, cy in [("(a)", 79, 64), ("(b)", 91, 792), ("(c)", 657, 792)]:
    fig.add_annotation(text=f"<b>{text}</b>", x=cx / W, y=1 - cy / H, xref="paper", yref="paper",
                       showarrow=False, xanchor="center", yanchor="middle", font=letter_font)

fig.write_html("out.html")
